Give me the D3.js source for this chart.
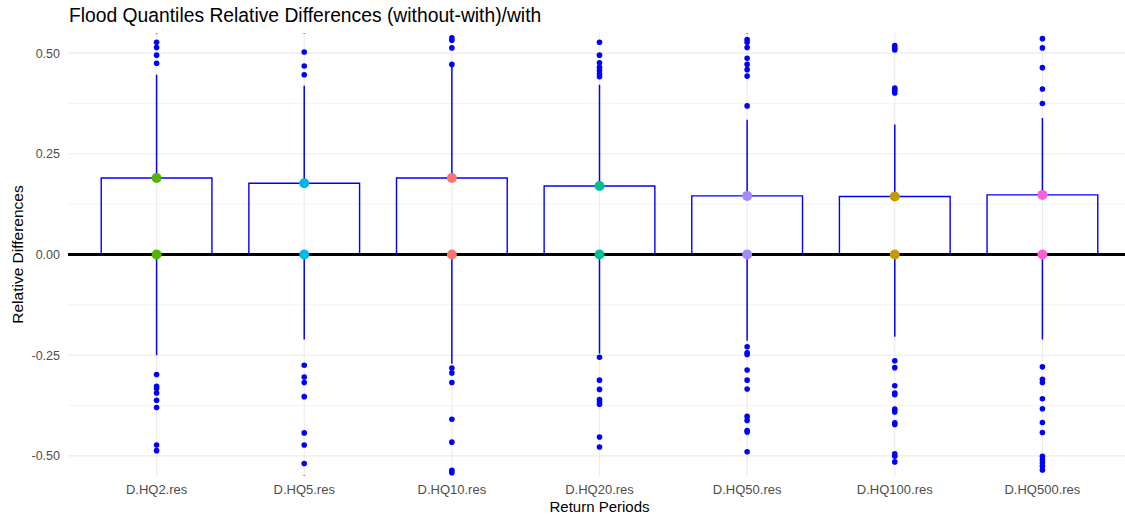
<!DOCTYPE html>
<html>
<head>
<meta charset="utf-8">
<script src="https://cdn.jsdelivr.net/npm/d3@7"></script>
<style>
  html, body { margin: 0; padding: 0; background: #fff; }
  svg { display: block; font-family: "Liberation Sans", Arial, sans-serif; }
</style>
</head>
<body>
<svg id="chart" width="1125" height="518"></svg>
<script>
// ---------- data ----------
const categories = ["D.HQ2.res", "D.HQ5.res", "D.HQ10.res", "D.HQ20.res", "D.HQ50.res", "D.HQ100.res", "D.HQ500.res"];
const barTop = [0.190, 0.177, 0.190, 0.170, 0.1455, 0.144, 0.148];
const whiskerHigh = [0.4465, 0.419, 0.472, 0.4216, 0.3346, 0.323, 0.339];
const whiskerLow = [-0.250, -0.211, -0.271, -0.246, -0.214, -0.204, -0.211];
const pointColors = ["#53B400", "#00B6EB", "#F8766D", "#00C094", "#A58AFF", "#C49A00", "#FB61D7"];
const outliersHQ2 = [0.556, 0.527, 0.514, 0.495, 0.475, -0.298, -0.327, -0.333, -0.344, -0.362, -0.380, -0.473, -0.487];
const outliersHQ5 = [0.556, 0.503, 0.468, 0.4465, -0.275, -0.304, -0.318, -0.353, -0.443, -0.473, -0.519, -0.556];
const outliersHQ10 = [0.538, 0.532, 0.513, 0.472, -0.282, -0.294, -0.318, -0.409, -0.466, -0.536, -0.542];
const outliersHQ20 = [0.527, 0.495, 0.476, 0.465, 0.457, 0.449, 0.4415, -0.255, -0.312, -0.335, -0.360, -0.366, -0.372, -0.453, -0.478];
const outliersHQ50 = [0.556, 0.534, 0.527, 0.514, 0.487, 0.472, 0.459, 0.443, 0.369, -0.229, -0.244, -0.248, -0.287, -0.312, -0.334, -0.402, -0.412, -0.437, -0.441, -0.490];
const outliersHQ100 = [0.519, 0.513, 0.508, 0.413, 0.407, 0.401, -0.264, -0.281, -0.326, -0.344, -0.348, -0.384, -0.391, -0.418, -0.422, -0.495, -0.501, -0.515];
const outliersHQ500 = [0.536, 0.513, 0.464, 0.411, 0.375, -0.279, -0.310, -0.318, -0.358, -0.383, -0.417, -0.442, -0.501, -0.510, -0.518, -0.526, -0.535];
const outliers = [outliersHQ2, outliersHQ5, outliersHQ10, outliersHQ20, outliersHQ50, outliersHQ100, outliersHQ500];
const yMajorTicks = [-0.5, -0.25, 0, 0.25, 0.5];
const yMinorTicks = [-0.375, -0.125, 0.125, 0.375];
const yTickLabels = ["-0.50", "-0.25", "0.00", "0.25", "0.50"];
const titleText = "Flood Quantiles Relative Differences (without-with)/with";
const xTitle = "Return Periods";
const yTitle = "Relative Differences";

// ---------- layout ----------
const panel = { left: 68, right: 1131, top: 33, bottom: 476 };
const svg = d3.select("#chart");

const x = d3.scalePoint().domain(categories).range([panel.left, panel.right]).padding(0.6);
const y = d3.scaleLinear().domain([-0.55, 0.55]).range([panel.bottom, panel.top]);
const barW = x.step() * 0.75;

svg.append("defs").append("clipPath").attr("id", "pclip")
  .append("rect").attr("x", panel.left).attr("y", panel.top)
  .attr("width", panel.right - panel.left).attr("height", panel.bottom - panel.top);

// grid
const grid = svg.append("g");
grid.selectAll("line.minor").data(yMinorTicks).join("line")
  .attr("x1", panel.left).attr("x2", panel.right)
  .attr("y1", d => y(d)).attr("y2", d => y(d))
  .attr("stroke", "#EBEBEB").attr("stroke-width", 0.6);
grid.selectAll("line.major").data(yMajorTicks).join("line")
  .attr("x1", panel.left).attr("x2", panel.right)
  .attr("y1", d => y(d)).attr("y2", d => y(d))
  .attr("stroke", "#EBEBEB").attr("stroke-width", 1.1);
grid.selectAll("line.vx").data(categories).join("line")
  .attr("x1", d => x(d)).attr("x2", d => x(d))
  .attr("y1", panel.top).attr("y2", panel.bottom)
  .attr("stroke", "#EBEBEB").attr("stroke-width", 1.1);

const plot = svg.append("g").attr("clip-path", "url(#pclip)");

// bars (outline only)
plot.selectAll("path.bar").data(categories).join("path")
  .attr("d", (d, i) => {
    const x0 = x(d) - barW / 2, x1 = x(d) + barW / 2;
    return `M${x0},${y(0)}V${y(barTop[i])}H${x1}V${y(0)}`;
  })
  .attr("fill", "none").attr("stroke", "#0000FF").attr("stroke-width", 1.4);

// whiskers
plot.selectAll("line.wu").data(categories).join("line")
  .attr("x1", d => x(d)).attr("x2", d => x(d))
  .attr("y1", (d, i) => y(barTop[i])).attr("y2", (d, i) => y(whiskerHigh[i]))
  .attr("stroke", "#0000FF").attr("stroke-width", 1.5);
plot.selectAll("line.wl").data(categories).join("line")
  .attr("x1", d => x(d)).attr("x2", d => x(d))
  .attr("y1", y(0)).attr("y2", (d, i) => y(whiskerLow[i]))
  .attr("stroke", "#0000FF").attr("stroke-width", 1.5);

// outlier points
categories.forEach((c, i) => {
  plot.selectAll(null).data(outliers[i]).join("circle")
    .attr("cx", x(c)).attr("cy", d => y(d)).attr("r", 2.8)
    .attr("fill", "#0000FF");
});

// zero line
plot.append("line")
  .attr("x1", panel.left).attr("x2", panel.right)
  .attr("y1", y(0)).attr("y2", y(0))
  .attr("stroke", "#000").attr("stroke-width", 3);

// coloured points
plot.selectAll("circle.top").data(categories).join("circle")
  .attr("cx", d => x(d)).attr("cy", (d, i) => y(barTop[i])).attr("r", 5)
  .attr("fill", (d, i) => pointColors[i]);
plot.selectAll("circle.zero").data(categories).join("circle")
  .attr("cx", d => x(d)).attr("cy", y(0)).attr("r", 5)
  .attr("fill", (d, i) => pointColors[i]);

// y tick labels
svg.append("g").selectAll("text").data(yMajorTicks).join("text")
  .attr("x", 60).attr("y", d => y(d)).attr("dy", "0.35em")
  .attr("text-anchor", "end").attr("font-size", 12.5).attr("fill", "#4D4D4D")
  .text((d, i) => yTickLabels[i]);

// x tick labels
svg.append("g").selectAll("text").data(categories).join("text")
  .attr("x", d => x(d)).attr("y", 489).attr("dy", "0.35em")
  .attr("text-anchor", "middle").attr("font-size", 13).attr("fill", "#4D4D4D")
  .text(d => d);

// axis titles
svg.append("text").attr("x", 599.5).attr("y", 507).attr("dy", "0.35em")
  .attr("text-anchor", "middle").attr("font-size", 15).attr("fill", "#000")
  .text(xTitle);
svg.append("text").attr("transform", `translate(17.5,${(panel.top + panel.bottom) / 2}) rotate(-90)`)
  .attr("dy", "0.35em").attr("text-anchor", "middle").attr("font-size", 15.5).attr("fill", "#000")
  .text(yTitle);

// title
svg.append("text").attr("x", 69).attr("y", 21.7)
  .attr("font-size", 19.3).attr("fill", "#000")
  .text(titleText);
</script>
</body>
</html>
